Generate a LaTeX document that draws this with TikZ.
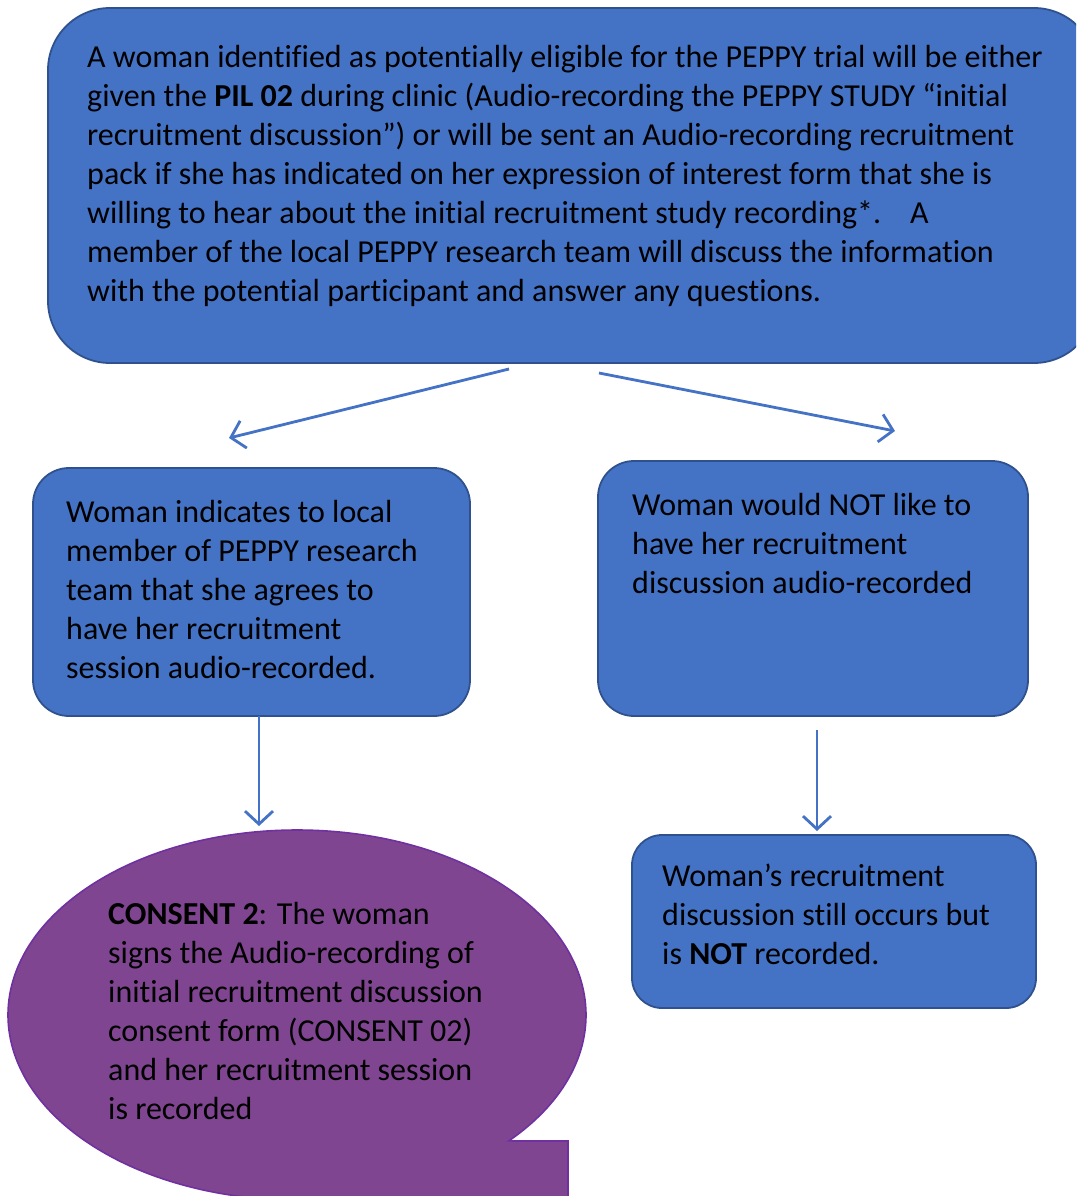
\documentclass[tikz,border=0pt]{standalone}
\usepackage{fontspec}
\setmainfont{Carlito}[Ligatures={TeX,NoCommon}]
\usetikzlibrary{arrows.meta}
\definecolor{boxblue}{HTML}{4472C4}
\definecolor{boxedge}{HTML}{2F528F}
\definecolor{purplefill}{RGB}{128,69,145}
\definecolor{purpleedge}{RGB}{112,48,160}
\tikzset{
  bluebox/.style={draw=boxedge, fill=boxblue, line width=1.8pt, rounded corners=#1},
  boxtext/.style={anchor=north west, inner sep=0pt, align=left, text=black,
     font=\fontsize{32}{39}\selectfont},
  flowarrow/.style={draw=boxblue, line width=2.8pt, -{Straight Barb[length=13pt,width=28pt,line width=2.8pt]}}
}
\begin{document}
\begin{tikzpicture}[x=1pt,y=-1pt]
\useasboundingbox (0,0) rectangle (1076,1196);
\clip (0,0) rectangle (1076,1196);

% boxes
\draw[bluebox=62pt] (48,8) rectangle (1096,363);
\node[inner sep=0pt, minimum size=0pt] (top) at (572,185) {};
\draw[bluebox=36pt] (33,468) rectangle (470,716);
\node[inner sep=0pt] (left) at (251,592) {};
\draw[bluebox=36pt] (598,461) rectangle (1028,716);
\node[inner sep=0pt] (right) at (813,588) {};
\draw[bluebox=30pt] (632,835) rectangle (1036,1008);
\node[inner sep=0pt] (norec) at (834,921) {};

% callout ellipse
\draw[fill=purplefill, draw=purpleedge, line width=1.6pt]
  (297,1015) ++(42.9:289 and 185) arc[start angle=42.9, end angle=-270, x radius=289, y radius=185]
  -- (568,1205) -- (568,1141) -- cycle;
\node[inner sep=0pt] (consent) at (297,1015) {};

% texts
\node[boxtext] (toptext) at (87,45) {A woman identified as potentially eligible for the PEPPY trial will be either\\
given the \textbf{PIL 02} during clinic (Audio-recording the PEPPY STUDY “initial\\
recruitment discussion”) or will be sent an Audio-recording recruitment\\
pack if she has indicated on her expression of interest form that she is\\
willing to hear about the initial recruitment study recording*.\ \ \ \ A\\
member of the local PEPPY research team will discuss the information\\
with the potential participant and answer any questions.};

\node[boxtext] (lefttext) at (66,500) {Woman indicates to local\\
member of PEPPY research\\
team that she agrees to\\
have her recruitment\\
session audio-recorded.};

\node[boxtext] (righttext) at (632,493) {Woman would NOT like to\\
have her recruitment\\
discussion audio-recorded};

\node[boxtext] (norectext) at (662,864) {Woman’s recruitment\\
discussion still occurs but\\
is \textbf{NOT} recorded.};

\node[boxtext] (consenttext) at (108,902) {\textbf{CONSENT 2}: The woman\\
signs the Audio-recording of\\
initial recruitment discussion\\
consent form (CONSENT 02)\\
and her recruitment session\\
is recorded};

% arrows
\coordinate (a1s) at (509,369);
\coordinate (a1e) at (229,438);
\coordinate (a2s) at (599,373);
\coordinate (a2e) at (895,431);
\coordinate (a3s) at (259,716);
\coordinate (a3e) at (259,826);
\coordinate (a4s) at (817,730);
\coordinate (a4e) at (817,831);
\draw[flowarrow] (a1s) -- (a1e);
\draw[flowarrow] (a2s) -- (a2e);
\draw[flowarrow] (a3s) -- (a3e);
\draw[flowarrow] (a4s) -- (a4e);
\end{tikzpicture}
\end{document}
